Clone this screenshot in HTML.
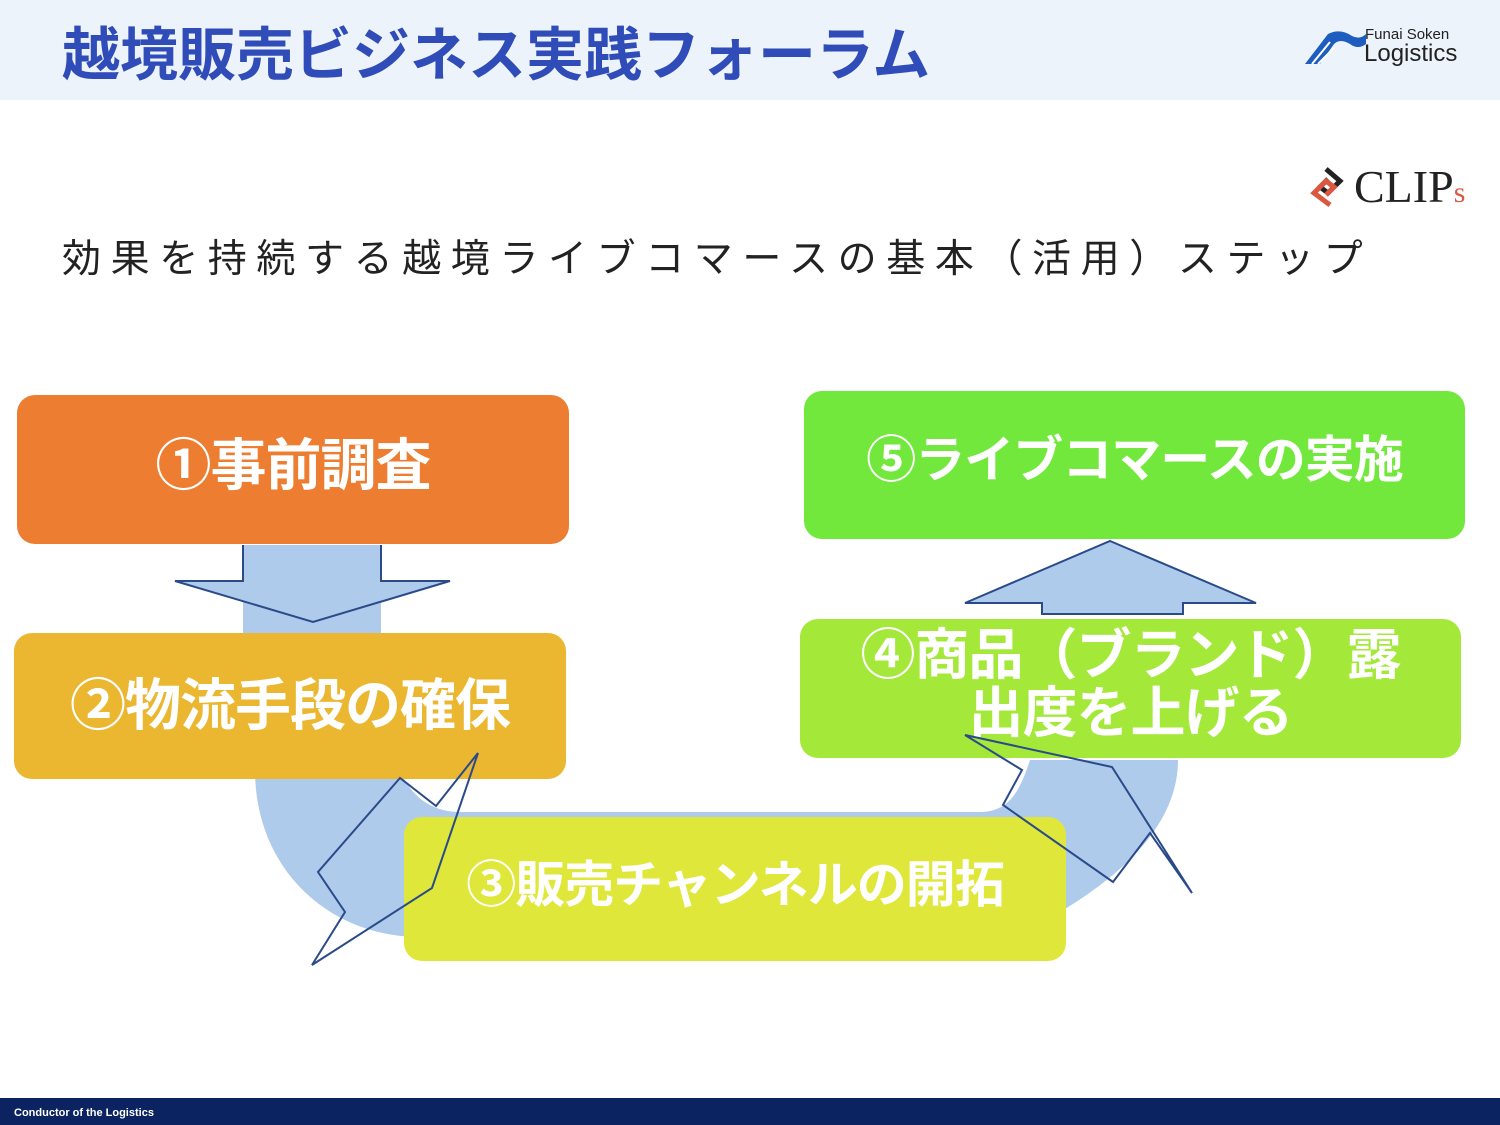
<!DOCTYPE html><html><head><meta charset="utf-8"><style>
body{margin:0;width:1500px;height:1125px;position:relative;background:#fff;font-family:"Liberation Sans","Noto Sans CJK JP",sans-serif;overflow:hidden}
.hd{position:absolute;left:0;top:0;width:1500px;height:100px;background:#edf3fa}
.t{position:absolute;left:62px;top:8px;font-size:58px;font-weight:bold;color:#2f4cb8;white-space:nowrap;letter-spacing:0px}
.sub{position:absolute;left:62px;top:228px;font-size:39px;color:#222;letter-spacing:9.6px;white-space:nowrap}
.b{position:absolute;border-radius:18px;color:#fff;font-weight:bold;display:flex;align-items:center;justify-content:center;text-align:center;font-size:56px;line-height:58px;letter-spacing:-1px}
.ft{position:absolute;left:0;top:1098px;width:1500px;height:27px;background:#0b2461;color:#fff;font-size:11px;font-weight:bold}
</style></head><body>
<div class="hd"></div>
<div class="t">越境販売ビジネス実践フォーラム</div>
<svg style="position:absolute;left:1300px;top:28px" width="70" height="40"><path d="M5 36 L28 6 Q40 0 52 8 Q60 12 66 6 L66 16 Q58 22 50 16 Q40 10 34 16 L20 36Z" fill="#1d5dbf"/><path d="M12 36 L30 14 M18 36 L34 20" stroke="#fff" stroke-width="2"/></svg>
<div style="position:absolute;left:1365px;top:26px;font-size:15px;color:#222">Funai Soken</div>
<div style="position:absolute;left:1364px;top:40px;font-size:24px;color:#222">Logistics</div>
<svg style="position:absolute;left:1306px;top:165px" width="44" height="44"><path d="M20 4 L34 16 L22 28 L14 22 L22 14" fill="none" stroke="#222" stroke-width="5"/><path d="M24 40 L8 28 L20 16 L28 22 L20 30" fill="none" stroke="#d9583f" stroke-width="5"/></svg>
<div style="position:absolute;left:1354px;top:160px;font-family:'Liberation Serif',serif;font-size:46px;color:#222">CLIP<span style="color:#d9583f;font-size:30px">s</span></div>
<div class="sub">効果を持続する越境ライブコマースの基本（活用）ステップ</div>
<svg style="position:absolute;left:0;top:0" width="1500" height="1100">
<path d="M255 770 C255 870 330 937 420 937 L1060 912 C1130 870 1178 820 1178 760 L1030 760 C1020 790 1010 812 980 812 L460 812 C430 812 410 795 400 770 Z" fill="#aecbeb"/>
<rect x="243" y="545" width="138" height="90" fill="#aecbeb"/>
<polygon points="175,581 450,581 313,622" fill="#aecbeb"/>
<polyline points="243,545 243,581 175,581 313,622 450,581 381,581 381,545" fill="none" stroke="#2a4a8a" stroke-width="2"/>
<polygon points="1110,541 1256,603 1183,603 1183,614 1042,614 1042,603 965,603" fill="#aecbeb" stroke="#2a4a8a" stroke-width="2"/>
</svg>
<div class="b" style="left:17px;top:395px;width:552px;height:149px;background:#ed7d31;padding-bottom:8px;box-sizing:border-box">①事前調査</div>
<div class="b" style="left:14px;top:633px;width:552px;height:146px;background:#ebb731">②物流手段の確保</div>
<div class="b" style="left:404px;top:817px;width:662px;height:144px;background:#dfe83a;font-size:50px;padding-bottom:8px;box-sizing:border-box">③販売チャンネルの開拓</div>
<div class="b" style="left:800px;top:619px;width:661px;height:139px;background:#a4e83a;font-size:55px;line-height:58px;align-items:flex-start;padding-top:7px;box-sizing:border-box">④商品（ブランド）露<br>出度を上げる</div>
<div class="b" style="left:804px;top:391px;width:661px;height:148px;background:#72e83c;font-size:50px;padding-bottom:10px;box-sizing:border-box">⑤ライブコマースの実施</div>
<svg style="position:absolute;left:0;top:0" width="1500" height="1100">
<polygon points="478,753 432,888 312,965 345,912 318,872 400,778 436,806" fill="none" stroke="#2a4a8a" stroke-width="2"/>
<polygon points="965,735 1112,767 1192,893 1150,833 1113,882 1003,805 1022,770" fill="none" stroke="#2a4a8a" stroke-width="2"/>
</svg>
<div class="ft"><span style="position:absolute;left:14px;top:9px">Conductor of the Logistics</span></div>
</body></html>
